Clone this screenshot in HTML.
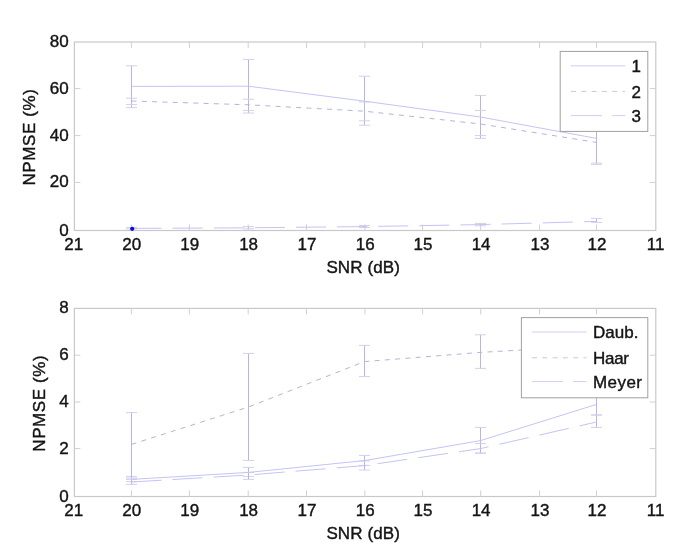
<!DOCTYPE html>
<html><head><meta charset="utf-8"><title>NPMSE vs SNR</title>
<style>
html,body{margin:0;padding:0;background:#fff;}
svg{display:block;}
text{font-family:"Liberation Sans", Arial, sans-serif;font-size:17px;fill:#141414;stroke:#141414;stroke-width:0.4px;}
</style></head>
<body>
<svg width="685" height="555" viewBox="0 0 685 555">
<rect width="685" height="555" fill="#fff"/>
<rect x="74.4" y="42.0" width="581.4" height="188.5" fill="none" stroke="#c8c8c8" stroke-width="1.2"/>
<path d="M131.4 230.5v-6M131.4 42.0v6M189.4 230.5v-6M189.4 42.0v6M248.2 230.5v-6M248.2 42.0v6M306.5 230.5v-6M306.5 42.0v6M364.9 230.5v-6M364.9 42.0v6M422.6 230.5v-6M422.6 42.0v6M480.7 230.5v-6M480.7 42.0v6M539.6 230.5v-6M539.6 42.0v6M596.5 230.5v-6M596.5 42.0v6M74.4 88.6h6M655.8 88.6h-6M74.4 135.6h6M655.8 135.6h-6M74.4 182.4h6M655.8 182.4h-6" stroke="#d0d0d0" stroke-width="1" fill="none"/>
<text x="73.8" y="249.9" text-anchor="middle">21</text>
<text x="131.8" y="249.9" text-anchor="middle">20</text>
<text x="189.8" y="249.9" text-anchor="middle">19</text>
<text x="248.6" y="249.9" text-anchor="middle">18</text>
<text x="306.9" y="249.9" text-anchor="middle">17</text>
<text x="365.3" y="249.9" text-anchor="middle">16</text>
<text x="423.0" y="249.9" text-anchor="middle">15</text>
<text x="481.1" y="249.9" text-anchor="middle">14</text>
<text x="540.0" y="249.9" text-anchor="middle">13</text>
<text x="596.9" y="249.9" text-anchor="middle">12</text>
<text x="655.6" y="249.9" text-anchor="middle">11</text>
<text x="68.6" y="47.2" text-anchor="end">80</text>
<text x="68.6" y="93.8" text-anchor="end">60</text>
<text x="68.6" y="140.8" text-anchor="end">40</text>
<text x="68.6" y="186.6" text-anchor="end">20</text>
<text x="68.6" y="235.7" text-anchor="end">0</text>
<text x="363.2" y="272.7" text-anchor="middle" font-size="17.5" letter-spacing="0.1">SNR (dB)</text>
<text transform="translate(35.0 137.1) rotate(-90)" text-anchor="middle" font-size="17.5" letter-spacing="0.6">NPMSE (%)</text>
<path d="M131.5 65.8V107.6" stroke="#b8b4ea" stroke-width="1.0" fill="none"/>
<path d="M126.0 65.8h11.0M126.0 107.6h11.0" stroke="#d0d0ec" stroke-width="1.0" fill="none"/>
<path d="M248.5 59.4V113.0" stroke="#b8b4ea" stroke-width="1.0" fill="none"/>
<path d="M243.0 59.4h11.0M243.0 113.0h11.0" stroke="#d0d0ec" stroke-width="1.0" fill="none"/>
<path d="M364.5 76.2V125.2" stroke="#b8b4ea" stroke-width="1.0" fill="none"/>
<path d="M359.0 76.2h11.0M359.0 125.2h11.0" stroke="#d0d0ec" stroke-width="1.0" fill="none"/>
<path d="M480.5 95.4V138.4" stroke="#b8b4ea" stroke-width="1.0" fill="none"/>
<path d="M475.0 95.4h11.0M475.0 138.4h11.0" stroke="#d0d0ec" stroke-width="1.0" fill="none"/>
<path d="M596.5 112.0V164.4" stroke="#b8b4ea" stroke-width="1.0" fill="none"/>
<path d="M591.0 112.0h11.0M591.0 164.4h11.0" stroke="#d0d0ec" stroke-width="1.0" fill="none"/>
<path d="M131.5 98.2V104.6" stroke="#b8b4ea" stroke-width="1.0" fill="none"/>
<path d="M126.0 98.2h11.0M126.0 104.6h11.0" stroke="#d0d0ec" stroke-width="1.0" fill="none"/>
<path d="M248.5 99.2V110.4" stroke="#b8b4ea" stroke-width="1.0" fill="none"/>
<path d="M243.0 99.2h11.0M243.0 110.4h11.0" stroke="#d0d0ec" stroke-width="1.0" fill="none"/>
<path d="M364.5 102.0V120.8" stroke="#b8b4ea" stroke-width="1.0" fill="none"/>
<path d="M359.0 102.0h11.0M359.0 120.8h11.0" stroke="#d0d0ec" stroke-width="1.0" fill="none"/>
<path d="M480.5 110.4V135.6" stroke="#b8b4ea" stroke-width="1.0" fill="none"/>
<path d="M475.0 110.4h11.0M475.0 135.6h11.0" stroke="#d0d0ec" stroke-width="1.0" fill="none"/>
<path d="M596.5 121.5V163.0" stroke="#b8b4ea" stroke-width="1.0" fill="none"/>
<path d="M591.0 121.5h11.0M591.0 163.0h11.0" stroke="#d0d0ec" stroke-width="1.0" fill="none"/>
<path d="M131.5 227.6V229.0" stroke="#b8b4ea" stroke-width="1.0" fill="none"/>
<path d="M126.0 227.6h11.0M126.0 229.0h11.0" stroke="#d0d0ec" stroke-width="1.0" fill="none"/>
<path d="M248.5 226.6V228.8" stroke="#b8b4ea" stroke-width="1.0" fill="none"/>
<path d="M243.0 226.6h11.0M243.0 228.8h11.0" stroke="#d0d0ec" stroke-width="1.0" fill="none"/>
<path d="M364.5 225.6V227.6" stroke="#b8b4ea" stroke-width="1.0" fill="none"/>
<path d="M359.0 225.6h11.0M359.0 227.6h11.0" stroke="#d0d0ec" stroke-width="1.0" fill="none"/>
<path d="M480.5 223.4V225.8" stroke="#b8b4ea" stroke-width="1.0" fill="none"/>
<path d="M475.0 223.4h11.0M475.0 225.8h11.0" stroke="#d0d0ec" stroke-width="1.0" fill="none"/>
<path d="M596.5 218.4V222.4" stroke="#b8b4ea" stroke-width="1.0" fill="none"/>
<path d="M591.0 218.4h11.0M591.0 222.4h11.0" stroke="#d0d0ec" stroke-width="1.0" fill="none"/>
<path d="M131.5 86.4L248.5 86.2L364.5 101.2L480.5 117.0L596.5 138.4" stroke="#c4c4f4" stroke-width="1.0" fill="none"/>
<path d="M131.5 101.0L248.5 104.8L364.5 111.2L480.5 124.0L596.5 142.4" stroke="#b4b4dc" stroke-width="1.0" fill="none" stroke-dasharray="5 5.3"/>
<path d="M131.5 228.4L248.5 227.8L364.5 226.6L480.5 224.6L596.5 221.4" stroke="#c4c4f4" stroke-width="1.0" fill="none" stroke-dasharray="30 11.13"/>
<circle cx="132.2" cy="228.8" r="2.1" fill="#0a0ae0"/>
<rect x="560.2" y="51.4" width="87.6" height="80.0" fill="#fff" stroke="#a0a0a0" stroke-width="1"/>
<path d="M571 65.8L625 65.8" stroke="#cecef4" stroke-width="1.0" fill="none"/>
<path d="M571 91.4L625 91.4" stroke="#c8c8e2" stroke-width="1.0" fill="none" stroke-dasharray="5 5.3"/>
<path d="M571 115.6L625 115.6" stroke="#cecef4" stroke-width="1.0" fill="none" stroke-dasharray="31 10"/>
<text x="631.4" y="71.6">1</text>
<text x="631.4" y="97.6">2</text>
<text x="631.4" y="121.6">3</text>
<rect x="74.4" y="308.4" width="581.4" height="188.1" fill="none" stroke="#c8c8c8" stroke-width="1.2"/>
<path d="M131.4 496.5v-6M131.4 308.4v6M189.4 496.5v-6M189.4 308.4v6M248.2 496.5v-6M248.2 308.4v6M306.5 496.5v-6M306.5 308.4v6M364.9 496.5v-6M364.9 308.4v6M422.6 496.5v-6M422.6 308.4v6M480.7 496.5v-6M480.7 308.4v6M539.6 496.5v-6M539.6 308.4v6M596.5 496.5v-6M596.5 308.4v6M74.4 355.2h6M655.8 355.2h-6M74.4 402.0h6M655.8 402.0h-6M74.4 448.6h6M655.8 448.6h-6" stroke="#d0d0d0" stroke-width="1" fill="none"/>
<text x="73.8" y="515.9" text-anchor="middle">21</text>
<text x="131.8" y="515.9" text-anchor="middle">20</text>
<text x="189.8" y="515.9" text-anchor="middle">19</text>
<text x="248.6" y="515.9" text-anchor="middle">18</text>
<text x="306.9" y="515.9" text-anchor="middle">17</text>
<text x="365.3" y="515.9" text-anchor="middle">16</text>
<text x="423.0" y="515.9" text-anchor="middle">15</text>
<text x="481.1" y="515.9" text-anchor="middle">14</text>
<text x="540.0" y="515.9" text-anchor="middle">13</text>
<text x="596.9" y="515.9" text-anchor="middle">12</text>
<text x="655.6" y="515.9" text-anchor="middle">11</text>
<text x="68.6" y="313.0" text-anchor="end">8</text>
<text x="68.6" y="360.4" text-anchor="end">6</text>
<text x="68.6" y="407.2" text-anchor="end">4</text>
<text x="68.6" y="453.8" text-anchor="end">2</text>
<text x="68.6" y="501.7" text-anchor="end">0</text>
<text x="363.2" y="538.7" text-anchor="middle" font-size="17.5" letter-spacing="0.1">SNR (dB)</text>
<text transform="translate(44.9 403.2) rotate(-90)" text-anchor="middle" font-size="17.5" letter-spacing="0.6">NPMSE (%)</text>
<path d="M131.5 476.4V481.6" stroke="#b8b4ea" stroke-width="1.0" fill="none"/>
<path d="M126.0 476.4h11.0M126.0 481.6h11.0" stroke="#d0d0ec" stroke-width="1.0" fill="none"/>
<path d="M248.5 467.4V476.4" stroke="#b8b4ea" stroke-width="1.0" fill="none"/>
<path d="M243.0 467.4h11.0M243.0 476.4h11.0" stroke="#d0d0ec" stroke-width="1.0" fill="none"/>
<path d="M364.5 455.4V465.4" stroke="#b8b4ea" stroke-width="1.0" fill="none"/>
<path d="M359.0 455.4h11.0M359.0 465.4h11.0" stroke="#d0d0ec" stroke-width="1.0" fill="none"/>
<path d="M480.5 427.4V453.0" stroke="#b8b4ea" stroke-width="1.0" fill="none"/>
<path d="M475.0 427.4h11.0M475.0 453.0h11.0" stroke="#d0d0ec" stroke-width="1.0" fill="none"/>
<path d="M596.5 393.0V415.0" stroke="#b8b4ea" stroke-width="1.0" fill="none"/>
<path d="M591.0 393.0h11.0M591.0 415.0h11.0" stroke="#d0d0ec" stroke-width="1.0" fill="none"/>
<path d="M131.5 412.6V478.0" stroke="#b8b4ea" stroke-width="1.0" fill="none"/>
<path d="M126.0 412.6h11.0M126.0 478.0h11.0" stroke="#d0d0ec" stroke-width="1.0" fill="none"/>
<path d="M248.5 353.4V460.4" stroke="#b8b4ea" stroke-width="1.0" fill="none"/>
<path d="M243.0 353.4h11.0M243.0 460.4h11.0" stroke="#d0d0ec" stroke-width="1.0" fill="none"/>
<path d="M364.5 345.4V376.6" stroke="#b8b4ea" stroke-width="1.0" fill="none"/>
<path d="M359.0 345.4h11.0M359.0 376.6h11.0" stroke="#d0d0ec" stroke-width="1.0" fill="none"/>
<path d="M480.5 334.8V368.4" stroke="#b8b4ea" stroke-width="1.0" fill="none"/>
<path d="M475.0 334.8h11.0M475.0 368.4h11.0" stroke="#d0d0ec" stroke-width="1.0" fill="none"/>
<path d="M596.5 330.0V362.0" stroke="#b8b4ea" stroke-width="1.0" fill="none"/>
<path d="M591.0 330.0h11.0M591.0 362.0h11.0" stroke="#d0d0ec" stroke-width="1.0" fill="none"/>
<path d="M131.5 479.4V484.4" stroke="#b8b4ea" stroke-width="1.0" fill="none"/>
<path d="M126.0 479.4h11.0M126.0 484.4h11.0" stroke="#d0d0ec" stroke-width="1.0" fill="none"/>
<path d="M248.5 472.4V479.4" stroke="#b8b4ea" stroke-width="1.0" fill="none"/>
<path d="M243.0 472.4h11.0M243.0 479.4h11.0" stroke="#d0d0ec" stroke-width="1.0" fill="none"/>
<path d="M364.5 461.0V470.0" stroke="#b8b4ea" stroke-width="1.0" fill="none"/>
<path d="M359.0 461.0h11.0M359.0 470.0h11.0" stroke="#d0d0ec" stroke-width="1.0" fill="none"/>
<path d="M480.5 443.6V453.2" stroke="#b8b4ea" stroke-width="1.0" fill="none"/>
<path d="M475.0 443.6h11.0M475.0 453.2h11.0" stroke="#d0d0ec" stroke-width="1.0" fill="none"/>
<path d="M596.5 415.0V427.4" stroke="#b8b4ea" stroke-width="1.0" fill="none"/>
<path d="M591.0 415.0h11.0M591.0 427.4h11.0" stroke="#d0d0ec" stroke-width="1.0" fill="none"/>
<path d="M131.5 479.4L248.5 472.4L364.5 460.6L480.5 440.6L596.5 404.4" stroke="#c4c4f4" stroke-width="1.0" fill="none"/>
<path d="M131.5 444.4L248.5 407.0L364.5 361.6L480.5 352.4L596.5 345.6" stroke="#b4b4dc" stroke-width="1.0" fill="none" stroke-dasharray="5 5.3"/>
<path d="M131.5 482.0L248.5 475.0L364.5 465.6L480.5 448.6L596.5 422.0" stroke="#c4c4f4" stroke-width="1.0" fill="none" stroke-dasharray="30 11.13"/>
<rect x="521.4" y="317.6" width="126.4" height="80.2" fill="#fff" stroke="#a0a0a0" stroke-width="1"/>
<path d="M532 332L586.4 332" stroke="#cecef4" stroke-width="1.0" fill="none"/>
<path d="M532 357.8L586.4 357.8" stroke="#c8c8e2" stroke-width="1.0" fill="none" stroke-dasharray="5 5.3"/>
<path d="M532 381.6L586.4 381.6" stroke="#cecef4" stroke-width="1.0" fill="none" stroke-dasharray="31 10"/>
<text x="593.0" y="338">Daub.</text>
<text x="593.0" y="363.6"><tspan letter-spacing="-0.3">Haar</tspan></text>
<text x="593.0" y="387.6"><tspan letter-spacing="0.45">Meyer</tspan></text>
</svg>
</body></html>
